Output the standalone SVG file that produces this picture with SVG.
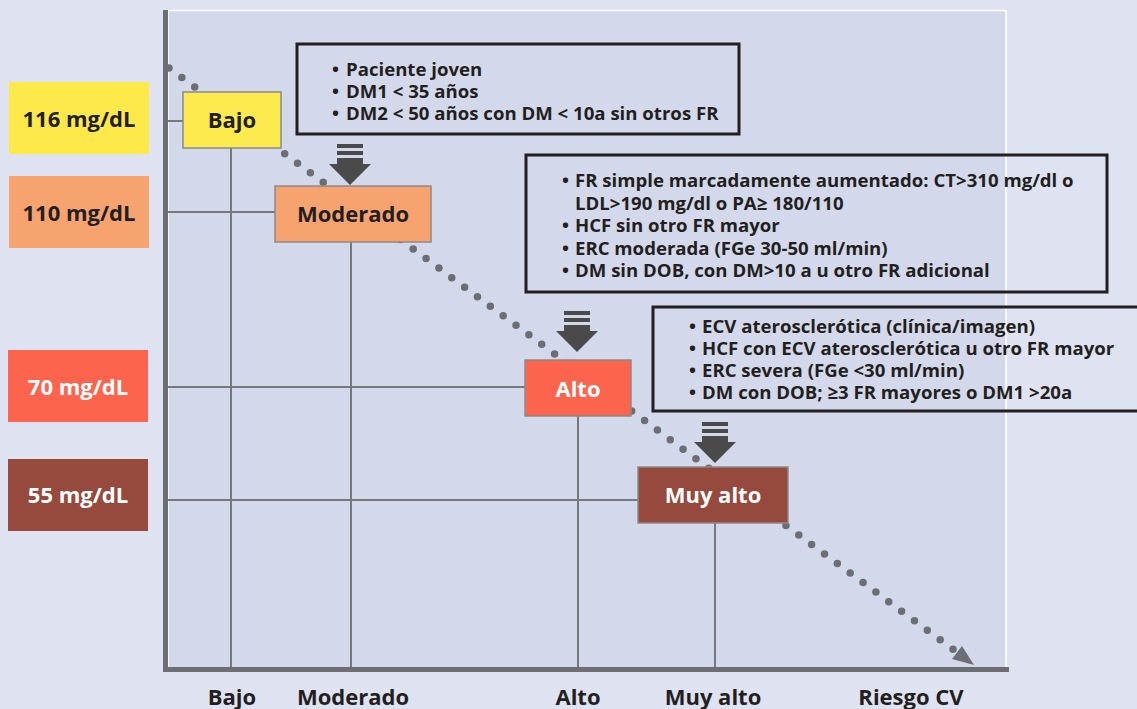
<svg xmlns="http://www.w3.org/2000/svg" xmlns:xlink="http://www.w3.org/1999/xlink" width="1137" height="709" viewBox="0 0 1137 709">
<style>
.lbl{font-family:"Open Sans","Noto Sans","Liberation Sans",sans-serif;font-weight:700;font-size:22px;text-anchor:middle;fill:#231f20}
.w{fill:#ffffff}
.bul{font-family:"Open Sans","Noto Sans","Liberation Sans",sans-serif;font-weight:700;font-size:18.6px;fill:#231f20}
.grid{stroke:#77787c;stroke-width:2;fill:none}
.node{stroke:#8a8a8a;stroke-width:1.5}
.info{fill:none;stroke:#231f20;stroke-width:3}
.axis{stroke:#6d6e73;stroke-width:5}
</style>
<defs>
<g id="darrow" fill="#4a4a4a">
<rect x="-13" y="0" width="26" height="4"/>
<rect x="-13" y="7" width="26" height="4"/>
<rect x="-13" y="14" width="26" height="7"/>
<polygon points="-21,20 21,20 0,41"/>
</g>
</defs>
<rect x="0" y="0" width="1137" height="709" fill="#dfe3f1"/>
<rect x="168" y="10.5" width="838" height="658" fill="#d3d9eb" stroke="#ffffff" stroke-width="1.5"/>

<g id="connectors">
<line class="grid" x1="168" y1="121" x2="183" y2="121"/>
<line class="grid" x1="168" y1="212" x2="275" y2="212"/>
<line class="grid" x1="168" y1="387" x2="525" y2="387"/>
<line class="grid" x1="168" y1="500" x2="638" y2="500"/>
<line class="grid" x1="231" y1="148" x2="231" y2="668"/>
<line class="grid" x1="351" y1="242" x2="351" y2="668"/>
<line class="grid" x1="578" y1="416" x2="578" y2="668"/>
<line class="grid" x1="715" y1="523" x2="715" y2="668"/>
<line x1="169" y1="68" x2="958" y2="653" stroke="#6d6e73" stroke-width="7.5" stroke-linecap="round" stroke-dasharray="0 16"/>
<polygon points="952,659 962,646 974,665" fill="#6d6e73"/>
<use xlink:href="#darrow" transform="translate(350,144)"/>
<use xlink:href="#darrow" transform="translate(577,311)"/>
<use xlink:href="#darrow" transform="translate(715,422)"/>
</g>

<g id="axes">
<line class="axis" x1="165.5" y1="10" x2="165.5" y2="672"/>
<line class="axis" x1="163" y1="669.5" x2="1009" y2="669.5"/>
</g>

<g id="level-116">
<rect x="9" y="82" width="140" height="72" fill="#ffe94a"/>
<text class="lbl" x="79" y="127">116 mg/dL</text>
</g>
<g id="level-110">
<rect x="9" y="176" width="140" height="72" fill="#f7a370"/>
<text class="lbl" x="79" y="221">110 mg/dL</text>
</g>
<g id="level-70">
<rect x="8" y="350" width="140" height="72" fill="#fc644e"/>
<text class="lbl w" x="78" y="395">70 mg/dL</text>
</g>
<g id="level-55">
<rect x="8" y="459" width="140" height="72" fill="#964a3e"/>
<text class="lbl w" x="78" y="503">55 mg/dL</text>
</g>

<g id="node-bajo">
<rect class="node" x="183" y="92" width="98" height="56" fill="#fdea4f"/>
<text class="lbl" x="232" y="128">Bajo</text>
</g>
<g id="node-moderado">
<rect class="node" x="275" y="186" width="156" height="56" fill="#f7a370"/>
<text class="lbl" x="353" y="222">Moderado</text>
</g>
<g id="node-alto">
<rect class="node" x="525" y="360" width="106" height="56" fill="#fc644e"/>
<text class="lbl w" x="578" y="397">Alto</text>
</g>
<g id="node-muyalto">
<rect class="node" x="638" y="467" width="150" height="56" fill="#964a3e"/>
<text class="lbl w" x="713" y="503">Muy alto</text>
</g>

<g id="info-bajo">
<rect class="info" x="297" y="44" width="442" height="90"/>
<text class="bul"><tspan x="332" y="76">•</tspan><tspan x="346" y="76">Paciente joven</tspan><tspan x="332" y="98">•</tspan><tspan x="346" y="98">DM1 &lt; 35 años</tspan><tspan x="332" y="120">•</tspan><tspan x="346" y="120">DM2 &lt; 50 años con DM &lt; 10a sin otros FR</tspan></text>
</g>
<g id="info-moderado">
<rect class="info" x="526" y="155" width="581" height="137"/>
<text class="bul"><tspan x="562" y="187">•</tspan><tspan x="575" y="187">FR simple marcadamente aumentado: CT&gt;310 mg/dl o</tspan><tspan x="575" y="209.5">LDL&gt;190 mg/dl o PA≥ 180/110</tspan><tspan x="562" y="232">•</tspan><tspan x="575" y="232">HCF sin otro FR mayor</tspan><tspan x="562" y="254.5">•</tspan><tspan x="575" y="254.5">ERC moderada (FGe 30-50 ml/min)</tspan><tspan x="562" y="277">•</tspan><tspan x="575" y="277">DM sin DOB, con DM&gt;10 a u otro FR adicional</tspan></text>
</g>
<g id="info-alto">
<rect class="info" x="653" y="307" width="490" height="104"/>
<text class="bul"><tspan x="689" y="333">•</tspan><tspan x="702" y="333">ECV aterosclerótica (clínica/imagen)</tspan><tspan x="689" y="355">•</tspan><tspan x="702" y="355">HCF con ECV aterosclerótica u otro FR mayor</tspan><tspan x="689" y="377">•</tspan><tspan x="702" y="377">ERC severa (FGe &lt;30 ml/min)</tspan><tspan x="689" y="399">•</tspan><tspan x="702" y="399">DM con DOB; ≥3 FR mayores o DM1 &gt;20a</tspan></text>
</g>

<g id="x-labels">
<text class="lbl" x="232" y="705">Bajo</text>
<text class="lbl" x="353" y="705">Moderado</text>
<text class="lbl" x="578" y="705">Alto</text>
<text class="lbl" x="713" y="705">Muy alto</text>
<text class="lbl" x="911" y="705">Riesgo CV</text>
</g>
</svg>
